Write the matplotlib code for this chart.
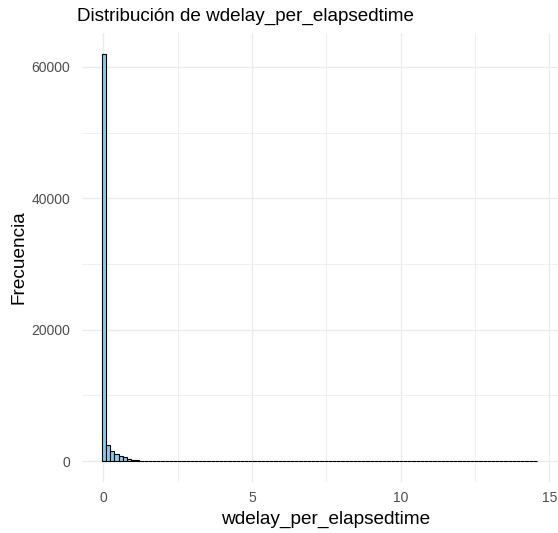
import numpy as np
import matplotlib
matplotlib.use("Agg")
import matplotlib.pyplot as plt
from matplotlib.ticker import MultipleLocator

plt.rcParams["font.family"] = ["Liberation Sans", "DejaVu Sans"]

# Histogram of wdelay_per_elapsedtime: bin layout and counts per bin
bin_start = -0.05
bin_width = 0.1407
counts = [
    62000, 2490, 1520, 1115, 810, 610, 355, 200, 110, 60,
    35, 25, 18, 14, 11, 9, 7, 6, 5, 4,
    4, 3, 3, 2, 2, 2, 2, 1, 1, 1,
    1, 1, 1, 1, 1, 1, 1, 1, 1, 1,
    1, 1, 1, 1, 1, 1, 0, 1, 0, 1,
    0, 0, 1, 0, 0, 0, 1, 0, 0, 0,
    0, 0, 0, 1, 0, 0, 0, 0, 0, 0,
    0, 0, 0, 0, 0, 0, 0, 0, 0, 1,
    0, 0, 0, 0, 0, 0, 0, 0, 0, 0,
    0, 0, 0, 0, 0, 0, 0, 0, 0, 0,
    0, 0, 0, 1,
]
x_ticks = [0, 5, 10, 15]
y_ticks = [0, 20000, 40000, 60000]

title = "Distribución de wdelay_per_elapsedtime"
x_label = "wdelay_per_elapsedtime"
y_label = "Frecuencia"

W, H = 558, 533
DPI = 100
fig = plt.figure(figsize=(W / DPI, H / DPI), dpi=DPI, facecolor="white")

# panel in pixel coordinates
left, right, top, bottom = 81.7, 558.0, 33.3, 481.5
ax = fig.add_axes([left / W, 1 - bottom / H, (right - left) / W, (bottom - top) / H])

edges = bin_start + bin_width * np.arange(len(counts) + 1)
ax.bar(edges[:-1], counts, width=bin_width, align="edge",
       color="#87CEEB", edgecolor="black", linewidth=0.8, zorder=3)

ax.set_xlim(-0.727, 15.29)
ymax = max(counts)
ax.set_ylim(-0.05 * ymax, ymax * 1.05)

ax.set_xticks(x_ticks)
ax.set_yticks(y_ticks)
ax.xaxis.set_minor_locator(MultipleLocator(2.5))
ax.yaxis.set_minor_locator(MultipleLocator(10000))

ax.grid(which="major", color="#EBEBEB", linewidth=1.0, zorder=0)
ax.grid(which="minor", color="#EBEBEB", linewidth=0.55, zorder=0)
ax.set_axisbelow(True)
for s in ax.spines.values():
    s.set_visible(False)
ax.tick_params(which="both", length=0)
ax.tick_params(axis="x", colors="#4D4D4D", labelsize=10.0, pad=7.0)
ax.tick_params(axis="y", colors="#4D4D4D", labelsize=10.0, pad=8.2)

fig.text(326 / W, 1 - 524 / H, x_label, fontsize=13.7, color="black",
         ha="center", va="baseline")
fig.text(19 / W, 1 - 257 / H, y_label, fontsize=13.7, color="black",
         ha="center", va="center", rotation=90)
fig.text(77 / W, 1 - 20.7 / H, title, fontsize=13.6, color="black",
         ha="left", va="baseline")

fig.savefig("out.png", dpi=DPI, facecolor="white")
